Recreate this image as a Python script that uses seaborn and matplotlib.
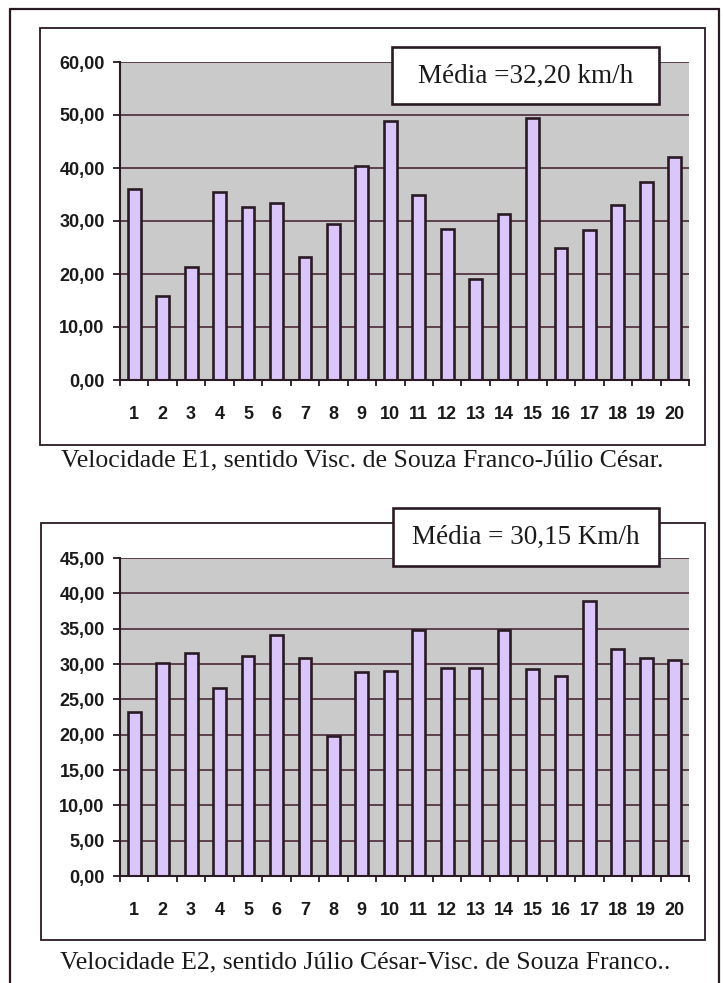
import matplotlib
matplotlib.use("Agg")
import matplotlib.pyplot as plt
import matplotlib.ticker as mticker
from matplotlib.patches import Rectangle
from matplotlib.lines import Line2D
import pandas as pd
import seaborn as sns

# Measurement number (1..20)
amostras = [str(i) for i in range(1, 21)]

# Speeds (km/h), station E1: Visc. de Souza Franco -> Júlio César
vel_e1 = [36.1, 15.9, 21.3, 35.5, 32.6, 33.4, 23.3, 29.5, 40.3, 48.9,
          34.9, 28.5, 19.1, 31.4, 49.5, 25.0, 28.3, 33.1, 37.3, 42.1]

# Speeds (km/h), station E2: Júlio César -> Visc. de Souza Franco
vel_e2 = [23.2, 30.2, 31.6, 26.6, 31.2, 34.1, 30.9, 19.8, 28.8, 29.0,
          34.8, 29.4, 29.4, 34.8, 29.3, 28.3, 38.9, 32.1, 30.9, 30.5]

y_ticks_e1 = [0, 10, 20, 30, 40, 50, 60]
y_ticks_e2 = [0, 5, 10, 15, 20, 25, 30, 35, 40, 45]

media_e1 = "Média =32,20 km/h"
media_e2 = "Média = 30,15 Km/h"
legenda_e1 = "Velocidade E1, sentido Visc. de Souza Franco-Júlio César."
legenda_e2 = "Velocidade E2, sentido Júlio César-Visc. de Souza Franco.."

sns.set_style("white")
plt.rcParams["font.family"] = ["Liberation Sans", "DejaVu Sans"]

W, H = 723, 983
fig = plt.figure(figsize=(W / 100, H / 100), dpi=100)
fig.patch.set_facecolor("white")

INK = "#2a1a24"
BAR = "#dac6fa"
BG = "#cbcaca"
GRID = "#4a2838"
TXT = "#1a1a1a"


def fx(x):
    return x / W


def fy(y):
    return 1 - y / H


def frame(x0, y0, x1, y1, lw=1.4, color=INK, fill=None, z=1):
    r = Rectangle((fx(x0), fy(y1)), fx(x1) - fx(x0), fy(y0) - fy(y1),
                  transform=fig.transFigure, lw=lw, edgecolor=color,
                  facecolor=fill if fill else "none", zorder=z)
    fig.add_artist(r)


def comma_fmt(v, pos):
    return f"{v:.2f}".replace(".", ",")


def chart(vals, ticks, top_px, bottom_px):
    ax = fig.add_axes([fx(120), fy(bottom_px), fx(689) - fx(120),
                       fy(top_px) - fy(bottom_px)])
    df = pd.DataFrame({"amostra": amostras, "vel": vals})
    sns.barplot(data=df, x="amostra", y="vel", ax=ax, color=BAR,
                saturation=1, width=0.45, edgecolor=INK, linewidth=1.9,
                zorder=3)
    ax.set_facecolor(BG)
    ax.set_xlim(-0.5, len(amostras) - 0.5)
    ax.set_ylim(ticks[0], ticks[-1])
    ax.set_yticks(ticks)
    ax.yaxis.set_major_formatter(mticker.FuncFormatter(comma_fmt))
    for t in ticks[1:]:
        ax.axhline(t, color=GRID, lw=1.2, zorder=1)
    ax.set_xlabel("")
    ax.set_ylabel("")
    for s in ["top", "right"]:
        ax.spines[s].set_visible(False)
    for s in ["left", "bottom"]:
        ax.spines[s].set_color(INK)
        ax.spines[s].set_linewidth(1.5)
        ax.spines[s].set_zorder(4)
    ax.set_xticks([i - 0.5 for i in range(len(amostras) + 1)], minor=True)
    ax.tick_params(axis="x", which="major", length=0, pad=19,
                   labelsize=13, labelcolor=TXT)
    ax.tick_params(axis="x", which="minor", length=4, width=1.3,
                   color=INK, direction="out", bottom=True)
    ax.tick_params(axis="y", length=5, width=1.3, color=INK,
                   direction="out", pad=6, labelsize=13,
                   labelcolor=TXT, left=True)
    for lab in ax.get_xticklabels() + ax.get_yticklabels():
        lab.set_fontweight("bold")
    return ax


# outer page frame, open at the bottom
for xs, ys in [([10, 10], [9, 990]), ([10, 719], [9, 9]),
               ([719, 719], [9, 990])]:
    fig.add_artist(Line2D([fx(v) for v in xs], [fy(v) for v in ys],
                          transform=fig.transFigure, color=INK, lw=1.6))

# chart frames
frame(40, 28, 705, 445, lw=1.3)
frame(41, 523, 705, 940, lw=1.3)

chart(vel_e1, y_ticks_e1, 62, 380)
chart(vel_e2, y_ticks_e2, 558, 876)

# mean value boxes
frame(392, 47, 659, 104, lw=1.9, fill="white", z=5)
fig.text(fx(525.5), fy(76), media_e1, ha="center", va="center",
         family=["Liberation Serif"], fontsize=19.5, color=TXT, zorder=6)
frame(393, 508, 659, 566, lw=1.9, fill="white", z=5)
fig.text(fx(526), fy(537), media_e2, ha="center", va="center",
         family=["Liberation Serif"], fontsize=19.5, color=TXT, zorder=6)

# captions
fig.text(fx(362), fy(460), legenda_e1, ha="center", va="center",
         family=["Liberation Serif"], fontsize=18.5, color=TXT)
fig.text(fx(365), fy(962), legenda_e2, ha="center", va="center",
         family=["Liberation Serif"], fontsize=18.5, color=TXT)

fig.savefig("out.png", dpi=100, facecolor="white")
